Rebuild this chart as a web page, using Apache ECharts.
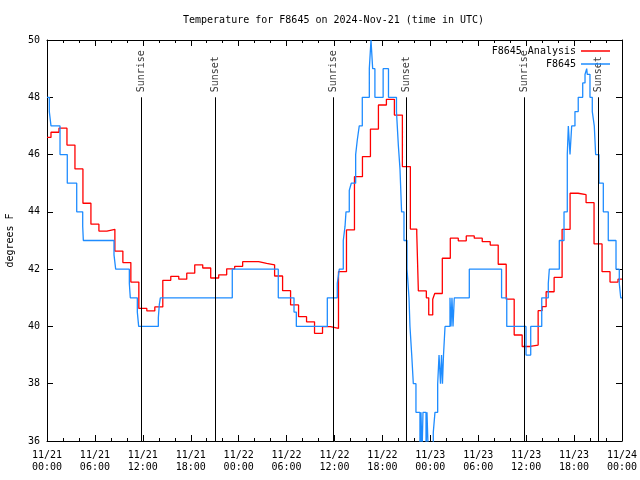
<!DOCTYPE html>
<html>
<head>
<meta charset="utf-8">
<script src="https://cdn.jsdelivr.net/npm/echarts@6/dist/echarts.min.js"></script>
<style>html,body{margin:0;padding:0;background:#fff;}#c{width:640px;height:480px;}</style>
</head>
<body>
<div id="c"></div>
<script>
// Hours since 2024-11-21 00:00 UTC
const xTickLabels = ['11/21\n00:00','11/21\n06:00','11/21\n12:00','11/21\n18:00','11/22\n00:00','11/22\n06:00','11/22\n12:00','11/22\n18:00','11/23\n00:00','11/23\n06:00','11/23\n12:00','11/23\n18:00','11/24\n00:00'];

const redHours = [0,0.5,1.5,2.5,3.5,4.5,5.5,6.5,7.5,8.5,9.5,10.5,11.5,12.5,13.5,14.5,15.5,16.5,17.5,18.5,19.5,20.5,21.5,22.5,23.5,24.5,25.5,26.5,27.5,28.5,29.5,30.5,31.5,32.5,33.5,34.5,35.5,36.5,37.5,38.5,39.5,40.5,41.5,42.5,43.5,44.5,45.5,46.3,46.5,47.5,47.8,48.3,48.55,49.5,50.5,51.5,52.5,53.5,54.5,55.5,56.5,57.5,58.5,59.5,60.5,61.5,62.0,62.5,63.5,64.5,65.5,66.5,67.5,68.5,69.5,70.5,71.5,72];
const redTemps = [46.6,46.78,46.92,46.33,45.5,44.3,43.57,43.33,43.39,42.63,42.23,41.55,40.63,40.54,40.68,41.61,41.75,41.65,41.86,42.15,42.04,41.69,41.8,42.01,42.1,42.26,42.26,42.2,42.15,41.76,41.25,40.75,40.34,40.16,39.76,39.99,39.93,41.91,43.37,45.23,45.93,46.89,47.73,47.93,47.38,45.58,43.4,43.25,41.24,41.0,40.4,40.95,41.15,42.38,43.08,42.99,43.16,43.08,42.96,42.84,42.17,40.95,39.7,39.3,39.35,40.55,40.69,41.21,41.71,43.39,44.65,44.6,44.32,42.88,41.91,41.55,41.65,41.65];

const blueHours = [0,0.29,0.5,1.63,2.54,3.72,4.47,4.55,8.39,8.6,10.31,10.43,11.31,11.48,13.94,14.06,14.19,23.2,28.96,30.93,31.22,35.1,36.35,36.48,36.6,37.1,37.32,37.44,37.85,38.1,38.65,38.85,39.1,39.48,40.36,40.57,40.78,41.06,42.09,42.76,43.76,44.0,44.2,44.4,44.7,45.08,45.33,45.45,45.67,45.87,46.2,46.7,46.83,46.96,47.08,47.46,47.58,47.75,48.37,48.58,48.92,49.09,49.27,49.4,49.52,49.65,49.84,50.46,50.59,50.71,50.84,51.0,52.88,56.92,57.57,59.98,60.57,61.95,62.77,62.9,64.15,64.74,65.15,65.28,65.49,65.7,66.11,66.52,67.08,67.37,67.58,67.65,67.99,68.28,68.53,68.7,69.12,69.66,70.28,71.25,71.66,71.84,72];
const blueTemps = [48,47.5,47,46,45,44,43.5,43,42.5,42,41.5,41,40.5,40,40.3,40.75,41,42,41,40.5,40,41,41.5,41.75,42,43,43.5,44,44.75,45,46,46.5,47,48,49,50,49,48,49,48,47.5,46.3,45.5,44,43,42,41,40,39,38,37,35.5,37,35.5,37,35.5,37,35.5,36.3,37,38,39,38,39,38,39,40,41,40,41,40,41,42,41,40,39,40,41,41.5,42,43,44,46,47,46,47,47.5,48,48.5,48.8,49,48.8,48,47.5,47,46,45,44,43,42,41.5,41,41];

const sunNames = ['Sunrise','Sunset','Sunrise','Sunset','Sunrise','Sunset'];
const sunHours = [11.77,21.07,35.85,45.02,59.77,69.03];
const sunLineTop = 48;

const FONT = 'DejaVu Sans Mono';
const zip = (a,b) => a.map((v,i)=>[v,b[i]]);

const chart = echarts.init(document.getElementById('c'), null, {renderer:'canvas'});
const axisCommon = {
  axisLine:{show:true, onZero:false, lineStyle:{color:'#000', width:1}},
  splitLine:{show:false}
};
chart.setOption({
  animation:false,
  backgroundColor:'#fff',
  title:{text:'Temperature for F8645 on 2024-Nov-21 (time in UTC)', left:178, top:10,
    textStyle:{fontFamily:FONT, fontSize:10, fontWeight:'normal', color:'#000'}},
  legend:{orient:'vertical', right:30, top:45, align:'right', itemWidth:29, itemHeight:1.5, itemGap:1, padding:0,
    icon:'rect',
    data:['F8645 Analysis','F8645'],
    textStyle:{fontFamily:FONT, fontSize:10, color:'#000', lineHeight:12}},
  grid:{left:47, right:18, top:40, bottom:39, containLabel:false, outerBoundsMode:'none'},
  xAxis:[
    Object.assign({type:'value', min:0, max:72, interval:6, position:'bottom',
      axisTick:{show:true, inside:true, length:6, lineStyle:{color:'#000'}},
      minorTick:{show:true, splitNumber:3, length:3, lineStyle:{color:'#000'}},
      axisLabel:{show:true, margin:8, fontFamily:FONT, fontSize:10, color:'#000', lineHeight:12,
        formatter:(v)=>xTickLabels[Math.round(v/6)]}}, axisCommon),
    Object.assign({type:'value', min:0, max:72, interval:6, position:'top',
      axisTick:{show:true, inside:true, length:6, lineStyle:{color:'#000'}},
      minorTick:{show:true, splitNumber:3, length:3, lineStyle:{color:'#000'}},
      axisLabel:{show:false}}, axisCommon)
  ],
  yAxis:[
    Object.assign({type:'value', min:36, max:50, interval:2, position:'left',
      name:'degrees F', nameLocation:'middle', nameGap:32, nameRotate:90,
      nameTextStyle:{fontFamily:FONT, fontSize:10, color:'#000'},
      axisTick:{show:true, inside:true, length:6, lineStyle:{color:'#000'}},
      axisLabel:{show:true, margin:7, fontFamily:FONT, fontSize:10, color:'#000'}}, axisCommon),
    Object.assign({type:'value', min:36, max:50, interval:2, position:'right',
      axisTick:{show:true, inside:true, length:6, lineStyle:{color:'#000'}},
      axisLabel:{show:false}}, axisCommon)
  ],
  series:[
    {type:'scatter', name:'sun', z:1, symbolSize:0, silent:true,
      data: sunHours.map((h,i)=>({value:[h, sunLineTop], name:sunNames[i]})),
      label:{show:true, position:'top', distance:5, rotate:90, align:'left', verticalAlign:'middle',
        formatter:(p)=>p.name, fontFamily:FONT, fontSize:10, color:'#000'},
      markLine:{silent:true, symbol:['none','none'], label:{show:false},
        lineStyle:{color:'#000', width:1, type:'solid'},
        data: sunHours.map(h=>[{coord:[h,36]},{coord:[h,sunLineTop]}])}
    },
    {type:'line', name:'F8645 Analysis', z:3, step:'end', symbol:'none', showSymbol:false,
      data: zip(redHours, redTemps), lineStyle:{color:'#ff0000', width:1.3}, itemStyle:{color:'#ff0000'}},
    {type:'line', name:'F8645', z:4, step:'end', symbol:'none', showSymbol:false,
      data: zip(blueHours, blueTemps), lineStyle:{color:'#1e8cff', width:1.3}, itemStyle:{color:'#1e8cff'}}
  ]
});
</script>
</body>
</html>
